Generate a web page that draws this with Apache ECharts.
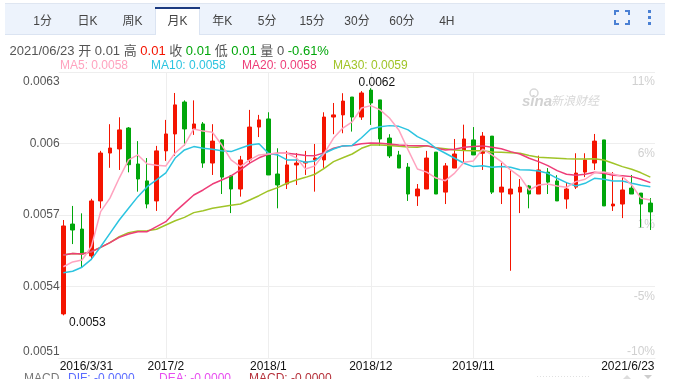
<!DOCTYPE html>
<html><head><meta charset="utf-8">
<style>html,body{margin:0;padding:0;background:#fff;overflow:hidden}#c{width:675px;height:379px}</style>
<script src="https://cdn.jsdelivr.net/npm/echarts@6/dist/echarts.min.js"></script>
</head><body><div id="c"></div>
<script>
const categories=["2016/3/31","2016/4","2016/5","2016/6","2016/7","2016/8","2016/9","2016/10","2016/11","2016/12","2017/1","2017/2","2017/3","2017/4","2017/5","2017/6","2017/7","2017/8","2017/9","2017/10","2017/11","2017/12","2018/1","2018/2","2018/3","2018/4","2018/5","2018/6","2018/7","2018/8","2018/9","2018/10","2018/11","2018/12","2019/1","2019/2","2019/3","2019/4","2019/5","2019/6","2019/7","2019/8","2019/9","2019/10","2019/11","2019/12","2020/1","2020/2","2020/3","2020/4","2020/5","2020/6","2020/7","2020/8","2020/9","2020/10","2020/11","2020/12","2021/1","2021/2","2021/3","2021/4","2021/5","2021/6/23"];
const opens=[.005285,.005662,.005641,.005528,.005759,.00596,.005977,.006065,.005914,.005843,.005759,.005969,.00604,.006174,.006061,.006082,.005918,.006015,.005864,.005809,.005931,.006069,.006103,.005872,.00583,.00591,.005918,.005931,.005931,.006111,.00612,.006195,.006111,.006224,.006183,.006023,.005952,.005901,.00578,.005809,.005964,.005796,.005897,.005973,.006015,.005959,.006031,.005796,.005788,.005796,.005822,.005788,.00588,.005843,.005767,.005817,.00588,.005918,.006015,.005738,.005746,.005813,.005792,.00575];
const closes=[.005654,.005637,.005536,.005759,.00596,.005981,.006057,.005911,.005851,.005746,.005969,.00604,.006162,.006061,.006082,.005918,.00601,.005859,.005809,.005931,.006069,.006099,.005868,.005826,.00591,.005918,.005922,.005939,.006111,.00612,.006178,.006111,.006212,.00617,.006019,.005948,.005897,.005788,.005809,.005939,.005788,.005906,.005956,.006019,.005952,.006031,.005796,.005817,.005809,.005817,.005788,.005889,.005838,.005759,.005809,.005876,.005931,.00601,.005738,.005746,.005805,.005788,.005746,.005713];
const lows=[.005279,.005578,.005481,.005511,.005728,.005898,.005889,.005879,.005798,.005728,.005717,.005927,.005948,.00599,.006036,.005898,.005868,.005788,.005708,.005777,.005919,.006027,.005868,.005728,.005809,.005826,.005868,.005798,.005898,.006039,.006043,.00605,.006099,.006078,.00599,.005939,.005897,.005759,.005738,.005809,.005788,.005746,.005897,.005917,.005952,.005889,.005788,.005746,.005466,.005708,.005728,.005788,.005788,.005759,.005726,.005809,.005859,.005889,.005738,.005717,.005687,.005788,.005648,.005637];
const highs=[.005679,.005738,.005707,.005768,.005969,.006081,.00611,.006069,.00601,.005939,.00599,.006099,.006212,.006181,.006181,.00609,.006081,.006018,.005868,.005948,.006141,.00612,.006131,.00598,.005969,.00596,.005969,.005998,.006131,.00617,.006211,.006195,.00622,.006232,.006183,.006039,.005969,.005918,.00583,.005969,.005964,.005918,.006019,.006079,.006069,.006048,.006031,.005918,.005889,.005851,.005826,.005949,.005897,.005867,.005838,.005959,.005959,.00604,.006015,.00588,.005859,.005868,.005792,.005771];
const ma5=[.005483,.005503,.005511,.005567,.005714,.005771,.005855,.005931,.005952,.005914,.005909,.005906,.00596,.005994,.006061,.006052,.006047,.005994,.005931,.005903,.005931,.005952,.005956,.005959,.005959,.00594,.005893,.005906,.005959,.006023,.006065,.006091,.006149,.006159,.006141,.006107,.006057,.005973,.005893,.00588,.005855,.005844,.005876,.005921,.005927,.005976,.005952,.005924,.005889,.005861,.005805,.005826,.00583,.005822,.005816,.00584,.00585,.005877,.00588,.005872,.005861,.005826,.00577,.005763];
const ma10=[.005458,.005464,.005481,.005514,.005567,.005623,.005679,.005728,.005777,.005819,.005847,.005877,.005939,.005973,.005987,.00598,.005976,.00597,.005966,.00598,.005994,.005999,.005959,.005952,.005931,.005931,.005921,.005927,.005959,.005977,.00599,.005992,.006024,.006061,.00607,.006075,.006072,.006057,.006029,.00601,.00598,.005959,.005938,.005917,.005903,.005907,.0059,.005903,.0059,.00589,.005889,.005885,.005875,.005854,.005836,.005822,.005833,.005854,.00585,.005843,.005843,.005833,.005825,.005819];
const ma20=[.005532,.005538,.005536,.005546,.005564,.005584,.005606,.00562,.00563,.00563,.005651,.005672,.005714,.005749,.005784,.005805,.00583,.005847,.005864,.005889,.005918,.00594,.005955,.005959,.005959,.005955,.00595,.005949,.005961,.00598,.00599,.005992,.005999,.006002,.006001,.005998,.005994,.005992,.005991,.005991,.005981,.005973,.005976,.005984,.005987,.00599,.005984,.005978,.005966,.005956,.005938,.005924,.005907,.005886,.005871,.005867,.005871,.005879,.005875,.005867,.005865,.005861,.00585,.005836];
const ma30=[.005532,.005538,.005536,.005546,.005564,.005584,.005609,.005626,.005633,.005634,.00564,.005658,.005676,.00569,.00571,.005718,.005728,.005735,.005741,.005746,.005763,.005781,.005801,.005815,.005833,.005847,.005858,.005871,.005896,.005924,.00594,.005956,.00598,.005994,.005994,.005992,.005988,.005985,.005984,.00599,.005982,.005978,.005973,.005971,.00597,.00597,.005964,.005963,.005961,.005959,.00595,.005942,.00594,.005938,.005936,.005935,.005935,.005936,.005931,.005917,.005903,.005892,.005877,.005859];
const labelledMonths=[0,11,22,33,44,63];
const gridMonths=[11,22,33,44];
const pctLabels=["-10%","-5%","1%","6%","11%"];
const tabs=["1分","日K","周K","月K","年K","5分","15分","30分","60分","4H"];
const maNames=["MA5: 0.0058","MA10: 0.0058","MA20: 0.0058","MA30: 0.0059"];
const macdNames=["MACD","DIF: -0.0000","DEA: -0.0000","MACD: -0.0000"];

const FONT='"Liberation Sans","Noto Sans CJK SC",sans-serif';
const RED='#f41400',GREEN='#00a60a';
const maColors=['#ffa3bf','#2cc4e0','#ee3d78','#a0c428'];
const candles=opens.map((o,i)=>[o,closes[i],lows[i],highs[i]]);
const T=(x,y,text,fill,extra)=>({type:'text',x,y,silent:true,style:Object.assign({text,fill,font:'12px '+FONT,textVerticalAlign:'middle',verticalAlign:'middle'},extra||{})});
const R=(x,y,w,h,fill)=>({type:'rect',silent:true,shape:{x,y,width:w,height:h},style:{fill}});
const BLUE='#4a80d4';
const graphics=[
 R(5,3,660,31,'#edf3fc'),R(5,3,660,1,'#dfe6f1'),R(5,34,660,1,'#dbe4f2'),
 R(156,8,43,27,'#ffffff'),R(155,9,1,26,'#dbe4f2'),R(199,9,1,26,'#dbe4f2'),R(155,7,45,2,'#1b3a80'),
 ...tabs.map((t,i)=>T(42.7+44.9*i,22,t,'#444',{textAlign:'center',align:'center'})),
 R(614,10,5,2,BLUE),R(614,10,2,5,BLUE),R(625,10,5,2,BLUE),R(628,10,2,5,BLUE),
 R(614,23,5,2,BLUE),R(614,20,2,5,BLUE),R(625,23,5,2,BLUE),R(628,20,2,5,BLUE),
 R(648,10,3,3,BLUE),R(648,16,3,3,BLUE),R(648,22,3,3,BLUE),
 {type:'text',x:9.5,y:51,silent:true,style:{text:'{g|2021/06/23 开 0.01 高 }{r|0.01}{g| 收 }{v|0.01}{g| 低 }{v|0.01}{g| 量 0 }{v|-0.61%}',
   verticalAlign:'middle',rich:{g:{fill:'#555',font:'13px '+FONT},r:{fill:RED,font:'13px '+FONT},v:{fill:GREEN,font:'13px '+FONT}}}},
 ...maNames.map((t,i)=>T(60+91*i,65.5,t,maColors[i])),
 {type:'circle',silent:true,shape:{cx:534,cy:93,r:4},style:{fill:'none',stroke:'#d8d8d8',lineWidth:1.5}},
 T(522,101.5,'sina','#d2d2d2',{font:'italic bold 15px '+FONT}),
 T(551,102,'新浪财经','#d8d8d8',{font:'italic 12px '+FONT}),
 T(24,379,macdNames[0],'#777'),T(68,379,macdNames[1],'#5b6cff'),T(159,379,macdNames[2],'#e84df0'),T(249,379,macdNames[3],'#b5303a'),
 {type:'polygon',silent:true,shape:{points:[[627,375],[623,379],[631,379]]},style:{fill:'#ddd'}},
 {type:'polygon',silent:true,shape:{points:[[644,375],[652,375],[648,379]]},style:{fill:'#ccc'}},
 T(536,377,'··················','#ddd',{font:'9px '+FONT})
];
const line=(name,data,color)=>({name,type:'line',data,showSymbol:false,symbol:'none',z:5,silent:true,lineStyle:{color,width:1.5},itemStyle:{color}});
const chart=echarts.init(document.getElementById('c'),null,{renderer:'canvas'});
chart.setOption({
 animation:false,backgroundColor:'#fff',
 textStyle:{fontFamily:FONT},
 grid:{left:58.7,top:72,width:596.3,height:286,containLabel:false},
 xAxis:{type:'category',data:categories,boundaryGap:true,
  axisLine:{show:true,lineStyle:{color:'#eee'}},axisTick:{show:false},
  splitLine:{show:true,alignWithLabel:true,interval:i=>gridMonths.includes(i),lineStyle:{color:'#eee',width:1}},
  axisLabel:{margin:3,interval:i=>labelledMonths.includes(i),color:'#111',fontSize:12,fontFamily:FONT,hideOverlap:false,
   formatter:(v,i)=>i===0?'{a|'+v+'}':i===63?'{b|'+v+'}':v,
   rich:{a:{padding:[0,0,0,46],color:'#111',fontSize:12},b:{padding:[0,45,0,0],color:'#111',fontSize:12}}}},
 yAxis:[
  {type:'value',min:0.0051,max:0.0063,interval:0.0003,scale:true,axisLine:{show:false},axisTick:{show:false},
   splitLine:{show:true,lineStyle:{color:'#eee',width:1}},
   axisLabel:{margin:-1,color:'#555',fontSize:12,fontFamily:FONT,verticalAlignMinLabel:'bottom',verticalAlignMaxLabel:'top',
    formatter:v=>Math.abs(v-0.0063)<1e-9?'{t|'+v+'}':String(v),
    rich:{t:{padding:[4,0,0,0],color:'#555',fontSize:12}}}},
  {type:'value',position:'right',min:0,max:4,interval:1,axisLine:{show:false},axisTick:{show:false},splitLine:{show:false},
   axisLabel:{inside:true,margin:0,color:'#d0d0d0',fontSize:12,fontFamily:FONT,verticalAlign:'top',verticalAlignMinLabel:'bottom',verticalAlignMaxLabel:'top',
    formatter:v=>v===0?pctLabels[v]:'{t|'+pctLabels[v]+'}',
    rich:{t:{padding:[4,0,0,0],color:'#d0d0d0',fontSize:12}}}}
 ],
 series:[
  {name:'月K',type:'candlestick',data:candles,barWidth:4,z:3,silent:true,
   itemStyle:{color:RED,color0:GREEN,borderColor:RED,borderColor0:GREEN,borderWidth:1},
   markPoint:{symbol:'circle',symbolSize:0,silent:true,animation:false,
    label:{show:true,color:'#111',fontSize:12,fontFamily:FONT,position:'inside',formatter:p=>p.value},
    data:[
     {coord:[categories[33],highs[33]],value:'0.0062',label:{offset:[6,-6]}},
     {coord:[categories[0],lows[0]],value:'0.0053',label:{offset:[24,7]}}
    ]}},
  line('MA30',ma30,maColors[3]),
  line('MA20',ma20,maColors[2]),
  line('MA10',ma10,maColors[1]),
  line('MA5',ma5,maColors[0])
 ],
 graphic:graphics
});
</script></body></html>
